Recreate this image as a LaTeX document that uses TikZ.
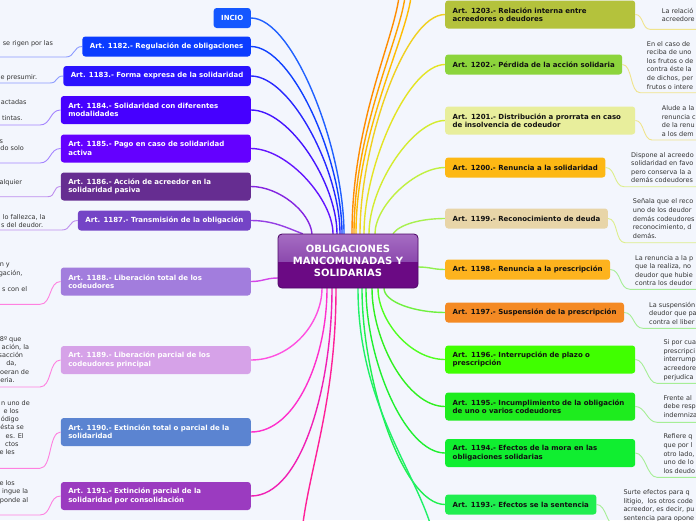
\documentclass[tikz,border=0pt]{standalone}
\usepackage{fontspec}
\setmainfont{DejaVu Sans}
\usetikzlibrary{calc}
\pgfdeclarelayer{bg}
\pgfsetlayers{bg,main}
\definecolor{bgc}{HTML}{F3F6FD}
\definecolor{stc}{HTML}{333333}
\definecolor{rtext}{HTML}{111111}
% centre
\definecolor{cbot}{HTML}{6B0A84}
\definecolor{ctopA}{HTML}{A66DC3}
\definecolor{ctopB}{HTML}{8C4AAE}
\definecolor{cbrd}{HTML}{4E0868}
% left boxes
\definecolor{fINC}{HTML}{1457FF}
\definecolor{f1182}{HTML}{0B3CFF}
\definecolor{f1183}{HTML}{2A12FF}
\definecolor{f1184}{HTML}{4600FF}
\definecolor{f1185}{HTML}{6400FF}
\definecolor{f1186}{HTML}{662D91}
\definecolor{f1187}{HTML}{7444C6}
\definecolor{f1188}{HTML}{A27DDD}
\definecolor{f1189}{HTML}{D6A2E8}
\definecolor{f1190}{HTML}{5B84D1}
\definecolor{f1191}{HTML}{9B3BC0}
% right boxes
\definecolor{f1203}{HTML}{B4C23C}
\definecolor{f1202}{HTML}{8CD43C}
\definecolor{f1201}{HTML}{E8EE9C}
\definecolor{f1200}{HTML}{FDB814}
\definecolor{f1199}{HTML}{E8D5A8}
\definecolor{f1198}{HTML}{FDB31E}
\definecolor{f1197}{HTML}{F48A24}
\definecolor{f1196}{HTML}{40FF00}
\definecolor{f1195}{HTML}{1EEC1E}
\definecolor{f1194}{HTML}{10EE30}
\definecolor{f1193}{HTML}{20EE50}
% branch lines
\definecolor{lINC}{HTML}{2060FF}
\definecolor{l1182}{HTML}{1040FF}
\definecolor{l1183}{HTML}{2828FF}
\definecolor{l1184}{HTML}{4414FF}
\definecolor{l1185}{HTML}{6414FF}
\definecolor{l1186}{HTML}{8424E0}
\definecolor{l1187}{HTML}{9640E4}
\definecolor{l1188}{HTML}{D444E8}
\definecolor{l1189}{HTML}{FF50E0}
\definecolor{l1190}{HTML}{FF30CC}
\definecolor{l1191}{HTML}{F020B4}
\definecolor{lofl}{HTML}{FF2098}
\definecolor{lot1}{HTML}{FF8C00}
\definecolor{lot2}{HTML}{FFA200}
\definecolor{lot3}{HTML}{FFBC00}
\definecolor{l1203}{HTML}{F0D020}
\definecolor{l1202}{HTML}{E4E424}
\definecolor{l1201}{HTML}{D4EC30}
\definecolor{l1200}{HTML}{C0F040}
\definecolor{l1199}{HTML}{A8F050}
\definecolor{l1198}{HTML}{90F050}
\definecolor{l1197}{HTML}{70F040}
\definecolor{l1196}{HTML}{50FF20}
\definecolor{l1195}{HTML}{30F020}
\definecolor{l1194}{HTML}{20F030}
\definecolor{l1193}{HTML}{20F050}
\definecolor{lofr}{HTML}{20F068}
% sub connectors
\definecolor{sblue}{HTML}{8C9BFF}
\definecolor{sviol}{HTML}{A585FF}
\definecolor{spurp}{HTML}{BE8EEE}
\definecolor{spink}{HTML}{FF80E0}
\definecolor{syel}{HTML}{F0E48C}
\definecolor{sylg}{HTML}{DDEE8C}
\definecolor{sgrn}{HTML}{A6EE96}
\begin{document}
\begin{tikzpicture}[x=1pt,y=-1pt,
  box/.style={rounded corners=3pt, inner xsep=7.5pt, inner ysep=0pt, minimum height=20pt, font=\bfseries\fontsize{7}{8.3}\selectfont},
  lbox/.style={box, anchor=east, text=white},
  rbox/.style={box, anchor=west, text=rtext},
  two/.style={minimum height=28pt, text width=175pt, align=left},
  branch/.style={line width=1.4pt},
  sub/.style={line width=0.9pt},
  stxt/.style={font=\fontsize{6.5}{8.65}\selectfont, text=stc, inner sep=0pt},
  ltxt/.style={stxt, anchor=base east},
  rtxt/.style={stxt, anchor=north west, align=left}]
\useasboundingbox (0,0) rectangle (696,520);
\begin{pgfonlayer}{bg}
\fill[bgc] (0,0) rectangle (696,520);
\end{pgfonlayer}

% ---- central node
\fill[cbot, rounded corners=4pt] (278,234) rectangle (418,288);
\begin{scope}
\clip[rounded corners=4pt] (278,234) rectangle (418,288);
\fill[top color=ctopA, bottom color=ctopB] (278,234) rectangle (418,261);
\end{scope}
\draw[cbrd, line width=0.8pt, rounded corners=4pt] (278,234) rectangle (418,288);
\node[inner sep=0pt, minimum width=140pt, minimum height=54pt, align=center, text=white,
  font=\bfseries\fontsize{10}{12.3}\selectfont] (c) at (348,261) {OBLIGACIONES\\MANCOMUNADAS Y\\SOLIDARIAS};

% ---- left boxes
\node[lbox, fill=fINC] (bINC) at (251,18) {INCIO};
\node[lbox, fill=f1182] (b1182) at (251,46.5) {Art. 1182.- Regulación de obligaciones};
\node[lbox, fill=f1183] (b1183) at (251,76) {Art. 1183.- Forma expresa de la solidaridad};
\node[lbox, two, fill=f1184] (b1184) at (251,110) {Art. 1184.- Solidaridad con diferentes\\modalidades};
\node[lbox, two, fill=f1185] (b1185) at (251,148.5) {Art. 1185.- Pago en caso de solidaridad\\activa};
\node[lbox, two, fill=f1186] (b1186) at (251,186.5) {Art. 1186.- Acción de acreedor en la\\solidaridad pasiva};
\node[lbox, fill=f1187] (b1187) at (251,220.5) {Art. 1187.- Transmisión de la obligación};
\node[lbox, two, fill=f1188] (b1188) at (251,281.5) {Art. 1188.- Liberación total de los\\codeudores};
\node[lbox, two, fill=f1189] (b1189) at (251,360) {Art. 1189.- Liberación parcial de los\\codeudores principal};
\node[lbox, two, fill=f1190] (b1190) at (251,432) {Art. 1190.- Extinción total o parcial de la\\solidaridad};
\node[lbox, two, fill=f1191] (b1191) at (251,496) {Art. 1191.- Extinción parcial de la\\solidaridad por consolidación};

% ---- right boxes
\node[rbox, two, fill=f1203] (b1203) at (445,14.5) {Art. 1203.- Relación interna entre\\acreedores o deudores};
\node[rbox, fill=f1202] (b1202) at (445,64.5) {Art. 1202.- Pérdida de la acción solidaria};
\node[rbox, two, fill=f1201] (b1201) at (445,120.5) {Art. 1201.- Distribución a prorrata en caso\\de insolvencia de codeudor};
\node[rbox, fill=f1200] (b1200) at (445,167.5) {Art. 1200.- Renuncia a la solidaridad};
\node[rbox, fill=f1199] (b1199) at (445,218.5) {Art. 1199.- Reconocimiento de deuda};
\node[rbox, fill=f1198] (b1198) at (445,269.5) {Art. 1198.- Renuncia a la prescripción};
\node[rbox, fill=f1197] (b1197) at (445,312.5) {Art. 1197.- Suspensión de la prescripción};
\node[rbox, two, fill=f1196] (b1196) at (445,359.5) {Art. 1196.- Interrupción de plazo o\\prescripción};
\node[rbox, two, fill=f1195] (b1195) at (445,406.5) {Art. 1195.- Incumplimiento de la obligación\\de uno o varios codeudores};
\node[rbox, two, fill=f1194] (b1194) at (445,453) {Art. 1194.- Efectos de la mora en las\\obligaciones solidarias};
\node[rbox, fill=f1193] (b1193) at (445,504.5) {Art. 1193.- Efectos se la sentencia};

% ---- left sub texts (visible parts)
\node[ltxt] (t82a) at (53.3,45) {se rigen por las};
\node[ltxt] (t83a) at (37.3,79) {e presumir.};
\node[ltxt] (t84a) at (26.7,104) {actadas};
\node[ltxt] (t84b) at (22.7,120.6) {tintas.};
\node[ltxt] (t85a) at (3.3,143) {s};
\node[ltxt] (t85b) at (24,150.6) {do solo};
\node[ltxt] (t86a) at (22.3,184.3) {alquier};
\node[ltxt] (t87a) at (45.7,219) {lo fallezca, la};
\node[ltxt] (t87b) at (43.3,227) {s del deudor.};
\node[ltxt] (t88a) at (10,266.3) {n y};
\node[ltxt] (t88b) at (22.7,275.3) {gación,};
\node[ltxt] (t88c) at (27.3,291.6) {s con el};
\node[ltxt] (t89a) at (21.7,341.3) {8º que};
\node[ltxt] (t89b) at (29.3,349.6) {ación, la};
\node[ltxt] (t89c) at (23.3,357.6) {sacción};
\node[ltxt] (t89d) at (16.7,365.6) {da,};
\node[ltxt] (t89e) at (29.3,374.3) {oeran de};
\node[ltxt] (t89f) at (15,382.3) {eria.};
\node[ltxt] (t90a) at (30,405) {n uno de};
\node[ltxt] (t90b) at (19,413) {e los};
\node[ltxt] (t90c) at (19,421) {ódigo};
\node[ltxt] (t90d) at (24,429.3) {ésta se};
\node[ltxt] (t90e) at (24,438.3) {es. El};
\node[ltxt] (t90f) at (18.7,446) {ctos};
\node[ltxt] (t90g) at (15,454.6) {e les};
\node[ltxt] (t91a) at (15,485.6) {e los};
\node[ltxt] (t91b) at (28.3,493.6) {ingue la};
\node[ltxt] (t91c) at (28.3,502.3) {ponde al};

% ---- right sub texts (visible parts)
\node[rtxt] (t1203) at (661.7,7.6) {La relació\\acreedore};
\node[rtxt] (t1202) at (646.7,40.9) {En el caso de\\reciba de uno\\los frutos o de\\contra éste la\\de dichos, per\\frutos o intere};
\node[rtxt] (t1201) at (661.7,105.3) {Alude a la\\renuncia c\\de la renu\\a los dem};
\node[rtxt] (t1200) at (631,151.9) {Dispone al acreedo\\solidaridad en favo\\pero conserva la a\\demás codeudores};
\node[rtxt] (t1199) at (632.7,198.6) {Señala que el reco\\uno de los deudor\\demás codeudores\\reconocimiento, d\\demás.};
\node[rtxt] (t1198) at (635,254.9) {La renuncia a la p\\que la realiza, no\\deudor que hubie\\contra los deudor};
\node[rtxt] (t1197) at (649,301.9) {La suspensión\\deudor que pa\\contra el liber};
\node[rtxt] (t1196) at (663.3,339.3) {Si por cua\\prescripci\\interrump\\acreedore\\perjudica};
\node[rtxt] (t1195) at (663.3,394.9) {Frente al\\debe resp\\indemniza};
\node[rtxt] (t1194) at (663.3,433.6) {Refiere q\\que por l\\otro lado,\\uno de lo\\los deudo};
\node[rtxt] (t1193) at (623.3,489.3) {Surte efectos para q\\litigio,~ los otros code\\acreedor, es decir, pu\\sentencia para opone};

% ---- free ends
\coordinate (ot1) at (399,-3);
\coordinate (ot2) at (405,-3);
\coordinate (ot3) at (411,-3);
\coordinate (obl) at (303,523);
\coordinate (obr) at (430,523);

\begin{pgfonlayer}{bg}
% left top branches
\draw[branch, lINC] (bINC.east) .. controls +(42,0) and +(0,-86) .. ($(c.north)+(-4,0)$);
\draw[branch, l1182] (b1182.east) .. controls +(41,0) and +(0,-75) .. ($(c.north)+(-6,0)$);
\draw[branch, l1183] (b1183.east) .. controls +(40,0) and +(0,-63) .. ($(c.north)+(-8,0)$);
\draw[branch, l1184] (b1184.east) .. controls +(39,0) and +(0,-50) .. ($(c.north)+(-11,0)$);
\draw[branch, l1185] (b1185.east) .. controls +(37,0) and +(0,-34) .. ($(c.north)+(-15,0)$);
\draw[branch, l1186] (b1186.east) .. controls +(28,0) and +(-2,-22) .. ($(c.north)+(-36,0)$);
\draw[branch, l1187] (b1187.east) .. controls +(22,0) and +(-16,-6) .. ($(c.north west)+(25,0)$);
% left bottom branches
\draw[branch, l1188] ($(c.west)+(0,17)$) .. controls +(-12,0) and +(12,0) .. (b1188.east);
\draw[branch, l1189] ($(c.south)+(-26,0)$) .. controls +(0,35) and +(40,0) .. (b1189.east);
\draw[branch, l1190] ($(c.south)+(-21,0)$) .. controls +(0,70) and +(45,0) .. (b1190.east);
\draw[branch, l1191] ($(c.south)+(-16,0)$) .. controls +(0,100) and +(50,0) .. (b1191.east);
\draw[branch, lofl] ($(c.south)+(-12,0)$) .. controls +(0,110) and +(8,-60) .. (obl);
% right top branches
\draw[branch, lot1] ($(c.north)+(4,0)$) .. controls +(0,-110) and +(-6,45) .. (ot1);
\draw[branch, lot2] ($(c.north)+(6,0)$) .. controls +(0,-105) and +(-6,45) .. (ot2);
\draw[branch, lot3] ($(c.north)+(8,0)$) .. controls +(0,-100) and +(-6,45) .. (ot3);
\draw[branch, l1203] ($(c.north)+(12,0)$) .. controls +(0,-90) and +(-40,0) .. (b1203.west);
\draw[branch, l1202] ($(c.north)+(16,0)$) .. controls +(0,-70) and +(-36,0) .. (b1202.west);
\draw[branch, l1201] ($(c.north)+(21,0)$) .. controls +(0,-48) and +(-32,0) .. (b1201.west);
\draw[branch, l1200] ($(c.north)+(27,0)$) .. controls +(0,-28) and +(-30,0) .. (b1200.west);
\draw[branch, l1199] ($(c.north)+(45,0)$) .. controls +(6,-9) and +(-25,0) .. (b1199.west);
\draw[branch, l1198] ($(c.east)+(0,6)$) .. controls +(12,0) and +(-12,0) .. (b1198.west);
% right bottom branches
\draw[branch, l1197] ($(c.south)+(36,0)$) .. controls +(0,14) and +(-30,0) .. (b1197.west);
\draw[branch, l1196] ($(c.south)+(30,0)$) .. controls +(0,32) and +(-35,0) .. (b1196.west);
\draw[branch, l1195] ($(c.south)+(24,0)$) .. controls +(0,52) and +(-38,0) .. (b1195.west);
\draw[branch, l1194] ($(c.south)+(18,0)$) .. controls +(0,72) and +(-40,0) .. (b1194.west);
\draw[branch, l1193] ($(c.south)+(14,0)$) .. controls +(0,92) and +(-42,0) .. (b1193.west);
\draw[branch, lofr] ($(c.south)+(10,0)$) .. controls +(0,110) and +(-20,-60) .. (obr);

% left sub connectors
\coordinate (k82) at (66,57);    \coordinate (e82) at (-2,57);
\coordinate (k83) at (50,83);    \coordinate (e83) at (-2,83);
\coordinate (k84) at (40,125);   \coordinate (e84) at (-2,125);
\coordinate (k85) at (40,163);   \coordinate (e85) at (-2,163);
\coordinate (k86) at (48,196.7); \coordinate (e86) at (-2,196.7);
\coordinate (k87) at (62,230);   \coordinate (e87) at (-2,230);
\coordinate (k88) at (40,304.3); \coordinate (e88) at (-2,304.3);
\coordinate (k89) at (40,387);   \coordinate (e89) at (-2,387);
\coordinate (k90) at (40,468.3); \coordinate (e90) at (-2,468.3);
\coordinate (k91) at (40,515);   \coordinate (e91) at (-2,515);
\draw[sub, sblue] (b1182.west) .. controls +(-9,0) and +(9,0) .. (k82) -- (e82);
\draw[sub, sblue] (b1183.west) .. controls +(-8,0) and +(8,0) .. (k83) -- (e83);
\draw[sub, sviol] (b1184.west) .. controls +(-11,0) and +(11,0) .. (k84) -- (e84);
\draw[sub, sviol] (b1185.west) .. controls +(-11,0) and +(11,0) .. (k85) -- (e85);
\draw[sub, spurp] (b1186.west) .. controls +(-8,0) and +(8,0) .. (k86) -- (e86);
\draw[sub, spurp] (b1187.west) .. controls +(-9,0) and +(9,0) .. (k87) -- (e87);
\draw[sub, spink] (b1188.west) .. controls +(-12,0) and +(12,0) .. (k88) -- (e88);
\draw[sub, spink] (b1189.west) .. controls +(-12,0) and +(12,0) .. (k89) -- (e89);
\draw[sub, spink] (b1190.west) .. controls +(-12,0) and +(12,0) .. (k90) -- (e90);
\draw[sub, spink] (b1191.west) .. controls +(-12,0) and +(12,0) .. (k91) -- (e91);

% right sub connectors
\coordinate (k1203) at (650,29.3);  \coordinate (e1203) at (698,29.3);
\coordinate (k1202) at (640,92.7);  \coordinate (e1202) at (698,92.7);
\coordinate (k1201) at (652,140);   \coordinate (e1201) at (698,140);
\coordinate (k1200) at (624,186.7); \coordinate (e1200) at (698,186.7);
\coordinate (k1199) at (625,242.7); \coordinate (e1199) at (698,242.7);
\coordinate (k1198) at (630,289.3); \coordinate (e1198) at (698,289.3);
\coordinate (k1197) at (643,328.3); \coordinate (e1197) at (698,328.3);
\coordinate (k1196) at (657,383.3); \coordinate (e1196) at (698,383.3);
\coordinate (k1195) at (657,422.3); \coordinate (e1195) at (698,422.3);
\coordinate (k1194) at (657,477.3); \coordinate (e1194) at (698,477.3);
\coordinate (k1193) at (616,526);   \coordinate (e1193) at (698,526);
\draw[sub, syel] (b1203.east) .. controls +(8,0) and +(-8,0) .. (k1203) -- (e1203);
\draw[sub, syel] (b1202.east) .. controls +(10,0) and +(-10,0) .. (k1202) -- (e1202);
\draw[sub, syel] (b1201.east) .. controls +(9,0) and +(-9,0) .. (k1201) -- (e1201);
\draw[sub, sylg] (b1200.east) .. controls +(10,0) and +(-10,0) .. (k1200) -- (e1200);
\draw[sub, sylg] (b1199.east) .. controls +(10,0) and +(-10,0) .. (k1199) -- (e1199);
\draw[sub, sgrn] (b1198.east) .. controls +(11,0) and +(-11,0) .. (k1198) -- (e1198);
\draw[sub, sgrn] (b1197.east) .. controls +(10,0) and +(-10,0) .. (k1197) -- (e1197);
\draw[sub, sgrn] (b1196.east) .. controls +(10,0) and +(-10,0) .. (k1196) -- (e1196);
\draw[sub, sgrn] (b1195.east) .. controls +(10,0) and +(-10,0) .. (k1195) -- (e1195);
\draw[sub, sgrn] (b1194.east) .. controls +(10,0) and +(-10,0) .. (k1194) -- (e1194);
\draw[sub, sgrn] (b1193.east) .. controls +(10,0) and +(-10,0) .. (k1193) -- (e1193);
\end{pgfonlayer}
\end{tikzpicture}
\end{document}
